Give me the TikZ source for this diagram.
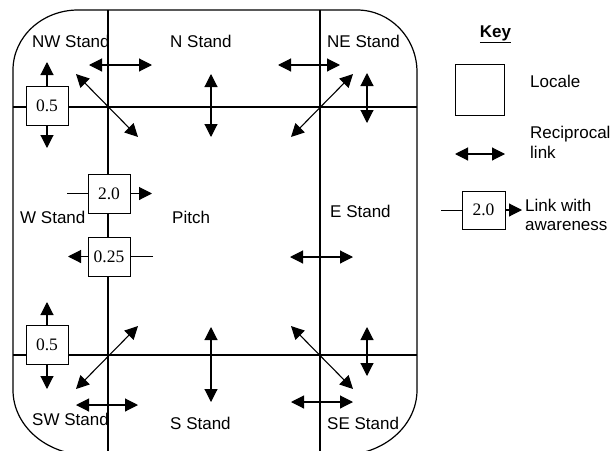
\documentclass[tikz,border=0pt]{standalone}
\usepackage{fontspec}
\setmainfont{Liberation Sans}
\newfontfamily\numfont{Liberation Serif}
\usetikzlibrary{arrows.meta}
\tikzset{
  lbl/.style={font=\fontsize{17}{20}\selectfont, anchor=base west, inner sep=0pt},
  numbox/.style={draw, line width=0.9pt, fill=white, minimum width=42pt, minimum height=39pt, inner sep=0pt, font=\numfont\fontsize{17.5}{20}\selectfont},
  tip/.tip={Triangle[length=13pt,width=13pt]},
  recip/.style={tip-tip, line width=1.1pt},
  oneway/.style={-tip, line width=1.1pt},
  plain/.style={line width=1pt},
  grid/.style={line width=1.1pt},
}
\begin{document}
\begin{tikzpicture}[x=1pt,y=-1pt]
\useasboundingbox (0,0) rectangle (615,450);
\clip (0,0) rectangle (615,450);
% outer locale outline
\draw[line width=1.2pt] (13,70) arc[start angle=180,end angle=270,x radius=65,y radius=60]
  -- (357,10) arc[start angle=270,end angle=360,x radius=60,y radius=62]
  -- (417,390) arc[start angle=0,end angle=90,x radius=75,y radius=65]
  -- (88,455) arc[start angle=90,end angle=180,x radius=75,y radius=65] -- cycle;
% internal walls
\coordinate (v1t) at (108,10); \coordinate (v1b) at (108,455);
\coordinate (v2t) at (320,10); \coordinate (v2b) at (320,455);
\coordinate (h1l) at (13,107); \coordinate (h1r) at (417,107);
\coordinate (h2l) at (13,355); \coordinate (h2r) at (417,355);
\draw[grid] (v1t) -- (v1b);
\draw[grid] (v2t) -- (v2b);
\draw[grid] (h1l) -- (h1r);
\draw[grid] (h2l) -- (h2r);
% labels
\node[lbl] (nw) at (32,47) {NW Stand};
\node[lbl] (n) at (170,47) {N Stand};
\node[lbl] (ne) at (327,47) {NE Stand};
\node[lbl] (w) at (20,223) {W Stand};
\node[lbl] (pitch) at (172,223) {Pitch};
\node[lbl] (e) at (330,217) {E Stand};
\node[lbl] (sw) at (32,425) {SW Stand};
\node[lbl] (s) at (170,429) {S Stand};
\node[lbl] (se) at (327,429) {SE Stand};
% reciprocal links
\coordinate (a1) at (89,65);  \coordinate (a2) at (152,65);
\coordinate (b1) at (76,74);  \coordinate (b2) at (138,137);
\coordinate (c1) at (211,74); \coordinate (c2) at (211,137);
\coordinate (d1) at (278,65); \coordinate (d2) at (340,65);
\coordinate (e1) at (353,74); \coordinate (e2) at (291,137);
\coordinate (f1) at (367,73); \coordinate (f2) at (367,123);
\coordinate (g1) at (290,257); \coordinate (g2) at (353,257);
\coordinate (h1) at (291,326); \coordinate (h2) at (353,389);
\coordinate (i1) at (367,327); \coordinate (i2) at (367,376);
\coordinate (j1) at (211,327); \coordinate (j2) at (211,402);
\coordinate (k1) at (291,402); \coordinate (k2) at (353,402);
\coordinate (l1) at (138,326); \coordinate (l2) at (76,389);
\coordinate (m1) at (76,405); \coordinate (m2) at (138,405);
\foreach \p in {a,b,c,d,e,f,g,h,i,j,k,l,m} \draw[recip] (\p1) -- (\p2);
% awareness links
\node[numbox] (bnw) at (47,106) {0.5};
\coordinate (bnwU) at (47,62); \coordinate (bnwD) at (47,148);
\draw[oneway] (bnw.north) -- (bnwU);
\draw[oneway] (bnw.south) -- (bnwD);
\node[numbox] (bsw) at (47,344.5) {0.5};
\coordinate (bswU) at (47,302); \coordinate (bswD) at (47,389);
\draw[oneway] (bsw.north) -- (bswU);
\draw[oneway] (bsw.south) -- (bswD);
\node[numbox] (bwi) at (109,193.5) {2.0};
\coordinate (bwiL) at (67,193.5); \coordinate (bwiR) at (152,193.5);
\draw[plain] (bwiL) -- (bwi.west);
\draw[oneway] (bwi.east) -- (bwiR);
\node[numbox] (bwo) at (109,256.5) {0.25};
\coordinate (bwoL) at (68,256.5); \coordinate (bwoR) at (153,256.5);
\draw[plain] (bwoR) -- (bwo.east);
\draw[oneway] (bwo.west) -- (bwoL);
% key
\node[font=\bfseries\fontsize{17}{20}\selectfont, anchor=base, inner sep=0pt] (key) at (495.5,37) {\underline{Key}};
\node[draw, line width=1pt, minimum width=49pt, minimum height=51pt, inner sep=0pt] (kloc) at (479.5,89.5) {};
\node[lbl] (klocT) at (530,87) {Locale};
\coordinate (kr1) at (455,154); \coordinate (kr2) at (505,154);
\draw[recip] (kr1) -- (kr2);
\node[lbl] (krT1) at (530,138) {Reciprocal};
\node[lbl] (krT2) at (530,158) {link};
\node[numbox, minimum width=43pt, minimum height=38pt] (kb) at (483.5,210) {2.0};
\coordinate (kbL) at (441,210); \coordinate (kbR) at (522,210);
\draw[plain] (kbL) -- (kb.west);
\draw[oneway] (kb.east) -- (kbR);
\node[lbl] (kaT1) at (525,211.5) {Link with};
\node[lbl] (kaT2) at (525,230) {awareness};
\end{tikzpicture}
\end{document}
